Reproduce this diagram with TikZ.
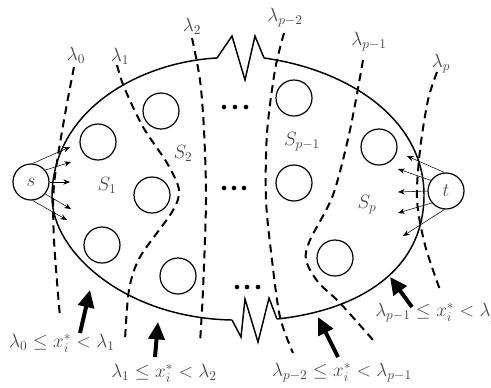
\documentclass[tikz,border=0pt]{standalone}
\usetikzlibrary{arrows.meta}
\definecolor{txt}{RGB}{78,70,62}
\begin{document}
\begin{tikzpicture}[x=0.75pt,y=-0.75pt,
  outline/.style={line width=1.1pt},
  cut/.style={line width=1.5pt, dash pattern=on 6pt off 4pt},
  cell/.style={draw, circle, line width=0.9pt, minimum size=27pt, inner sep=0pt},
  term/.style={draw, circle, line width=0.9pt, minimum size=27pt, inner sep=0pt, text=txt, font=\fontsize{15}{17}\selectfont},
  lab/.style={text=txt, font=\fontsize{14}{16}\selectfont, inner sep=0pt},
  flow/.style={-{Stealth[length=5pt,width=4pt]}, line width=0.4pt},
  big/.style={-{Triangle[length=13pt,width=12pt]}, line width=3pt},
  dotc/.style={fill, circle, inner sep=0pt, minimum size=3.5pt}
]
\useasboundingbox (0,0) rectangle (491,387);
\clip (0,0) rectangle (491,387);

% outline
\draw[outline] (217,58) .. controls (140,62) and (52,110) .. (52,197)
  .. controls (52,252) and (125,318) .. (232,320);
\draw[outline] (264,58) .. controls (350,70) and (424,120) .. (424,195)
  .. controls (424,270) and (360,310) .. (277,319);
\draw[outline] (217,58) -- (232,36) -- (245,80) -- (255,36) -- (264,58);
\draw[outline] (232,320) -- (241,337) -- (245,299) -- (258,342) -- (269,298) -- (277,319);

% cells
\node[cell] (c1) at (98,142) {};
\node[cell] (c2) at (161,111) {};
\node[cell] (c3) at (152,195) {};
\node[cell] (c4) at (102,245) {};
\node[cell] (c5) at (178,276) {};
\node[cell] (c6) at (294,98) {};
\node[cell] (c7) at (294,183) {};
\node[cell] (c8) at (379,147) {};
\node[cell] (c9) at (335,258) {};

% dots
\foreach \x in {224,235,246} \node[dotc] at (\x,107) {};
\foreach \x in {224,234,244} \node[dotc] at (\x,188) {};
\foreach \x in {237,247,258} \node[dotc] at (\x,287) {};

% cuts
\draw[cut] plot[smooth] coordinates {(74,67) (64,120) (54,185) (54,240) (60,317)};
\draw[cut] plot[smooth] coordinates {(117,65) (124,87) (143,127) (167,163) (179,190) (172,212) (140,257) (129,290) (125,340)};
\draw[cut] plot[smooth] coordinates {(192,38) (200,80) (204,130) (206,200) (203,290) (200,343)};
\draw[cut] plot[smooth] coordinates {(284,33) (275,70) (267,133) (266,200) (272,260) (280,317) (293,353)};
\draw[cut] plot[smooth] coordinates {(363,60) (350,130) (333,195) (310,240) (306,260) (318,282) (340,303) (373,340)};
\draw[cut] plot[smooth] coordinates {(437,72) (428,100) (420,150) (417,200) (425,245) (440,290)};

% terminals
\node[term] (s) at (31,182) {$s$};
\node[term] (t) at (446,191) {$t$};

\coordinate (sa1) at (70,147);
\coordinate (sa2) at (71,162);
\coordinate (sa3) at (70,182);
\coordinate (sa4) at (71,209);
\coordinate (sa5) at (67,220);
\draw[flow] (s.85) -- (sa1);
\draw[flow] (s.40) -- (sa2);
\draw[flow] (s.0) -- (sa3);
\draw[flow] (s.-40) -- (sa4);
\draw[flow] (s.-85) -- (sa5);

\coordinate (ta1) at (407,156);
\coordinate (ta2) at (398,169);
\coordinate (ta3) at (398,192);
\coordinate (ta4) at (398,213);
\coordinate (ta5) at (403,236);
\draw[flow] (t.95) -- (ta1);
\draw[flow] (t.145) -- (ta2);
\draw[flow] (t.180) -- (ta3);
\draw[flow] (t.220) -- (ta4);
\draw[flow] (t.265) -- (ta5);

% labels
\node[lab] (l0) at (76,55) {$\lambda_0$};
\node[lab] (l1) at (120,56) {$\lambda_1$};
\node[lab] (l2) at (192,26) {$\lambda_2$};
\node[lab] (lp2) at (285,18) {$\lambda_{p-2}$};
\node[lab] (lp1) at (369,42) {$\lambda_{p-1}$};
\node[lab] (lp) at (441,64) {$\lambda_p$};

\node[lab] (S1) at (107,185) {$S_1$};
\node[lab] (S2) at (183,153) {$S_2$};
\node[lab] (Sp1) at (302,142) {$S_{p-1}$};
\node[lab] (Sp) at (367,205) {$S_p$};

\node[lab] (r1) at (62,343) {$\lambda_0 \le x_i^* < \lambda_1$};
\node[lab] (r2) at (164,373) {$\lambda_1 \le x_i^* < \lambda_2$};
\node[lab] (r3) at (342,373) {$\lambda_{p-2} \le x_i^* < \lambda_{p-1}$};
\node[lab, anchor=west] (r4) at (375,313) {$\lambda_{p-1} \le x_i^* < \lambda_p$};

% bold arrows
\coordinate (b1s) at (80,333); \coordinate (b1e) at (90,290);
\coordinate (b2s) at (155,357); \coordinate (b2e) at (158,322);
\coordinate (b3s) at (338,357); \coordinate (b3e) at (318,317);
\coordinate (b4s) at (412,307); \coordinate (b4e) at (390,277);
\draw[big] (b1s) -- (b1e);
\draw[big] (b2s) -- (b2e);
\draw[big] (b3s) -- (b3e);
\draw[big] (b4s) -- (b4e);
\end{tikzpicture}
\end{document}
